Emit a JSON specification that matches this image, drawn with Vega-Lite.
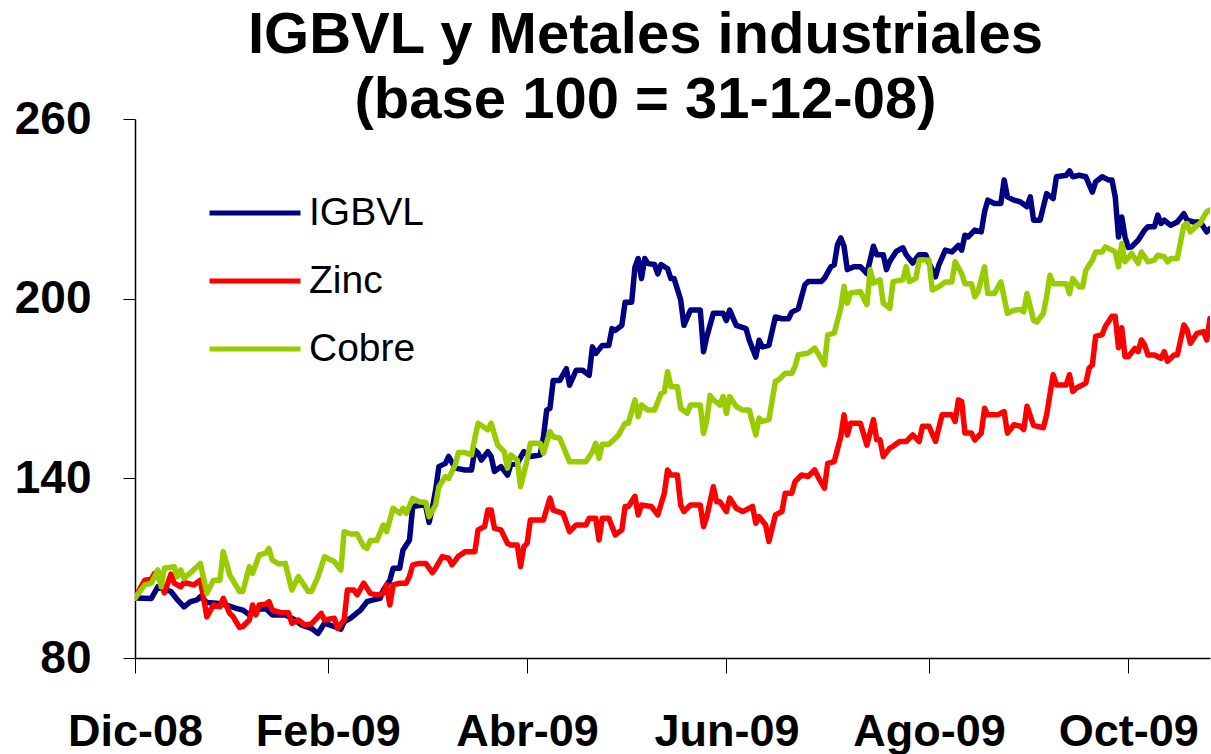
{
"$schema":"https://vega.github.io/schema/vega-lite/v6.json",
"width":1075,"height":539,
"autosize":{"type":"none"},
"padding":{"left":135,"top":119,"right":1,"bottom":96},
"background":"white",
"config":{"view":{"stroke":null},"font":"Liberation Sans"},
"title":{"text":["IGBVL y Metales industriales","(base 100 = 31-12-08)"],"font":"Liberation Sans","fontSize":58,"fontWeight":"bold","color":"black","anchor":"middle","frame":"group","dx":-27,"lineHeight":65,"baseline":"alphabetic","offset":-80},
"data":{"values":[
{"s":"IGBVL","d":"2008/12/31","v":100},{"s":"IGBVL","d":"2009/01/05","v":99.9},{"s":"IGBVL","d":"2009/01/07","v":103.8},{"s":"IGBVL","d":"2009/01/11","v":102.2},{"s":"IGBVL","d":"2009/01/13","v":99.4},{"s":"IGBVL","d":"2009/01/15","v":97.1},{"s":"IGBVL","d":"2009/01/17","v":98.8},{"s":"IGBVL","d":"2009/01/19","v":99.4},{"s":"IGBVL","d":"2009/01/20","v":100.5},{"s":"IGBVL","d":"2009/01/22","v":98.5},{"s":"IGBVL","d":"2009/01/25","v":98.3},{"s":"IGBVL","d":"2009/01/28","v":97.7},{"s":"IGBVL","d":"2009/01/31","v":96.6},{"s":"IGBVL","d":"2009/02/02","v":96},{"s":"IGBVL","d":"2009/02/04","v":94.4},{"s":"IGBVL","d":"2009/02/06","v":96},{"s":"IGBVL","d":"2009/02/09","v":96.6},{"s":"IGBVL","d":"2009/02/11","v":94.4},{"s":"IGBVL","d":"2009/02/15","v":94.4},{"s":"IGBVL","d":"2009/02/18","v":92.7},{"s":"IGBVL","d":"2009/02/20","v":91},{"s":"IGBVL","d":"2009/02/23","v":89.9},{"s":"IGBVL","d":"2009/02/25","v":88.2},{"s":"IGBVL","d":"2009/02/27","v":91.6},{"s":"IGBVL","d":"2009/03/02","v":90.5},{"s":"IGBVL","d":"2009/03/04","v":89.6},{"s":"IGBVL","d":"2009/03/05","v":92.1},{"s":"IGBVL","d":"2009/03/07","v":93.3},{"s":"IGBVL","d":"2009/03/10","v":96},{"s":"IGBVL","d":"2009/03/12","v":98.8},{"s":"IGBVL","d":"2009/03/14","v":99.4},{"s":"IGBVL","d":"2009/03/16","v":99.9},{"s":"IGBVL","d":"2009/03/17","v":102.7},{"s":"IGBVL","d":"2009/03/19","v":106},{"s":"IGBVL","d":"2009/03/20","v":110},{"s":"IGBVL","d":"2009/03/22","v":110},{"s":"IGBVL","d":"2009/03/23","v":116},{"s":"IGBVL","d":"2009/03/25","v":119.4},{"s":"IGBVL","d":"2009/03/26","v":130.6},{"s":"IGBVL","d":"2009/03/29","v":131.1},{"s":"IGBVL","d":"2009/03/30","v":130.6},{"s":"IGBVL","d":"2009/03/31","v":125.3},{"s":"IGBVL","d":"2009/04/01","v":130},{"s":"IGBVL","d":"2009/04/02","v":136.1},{"s":"IGBVL","d":"2009/04/03","v":143.9},{"s":"IGBVL","d":"2009/04/05","v":145},{"s":"IGBVL","d":"2009/04/06","v":147.3},{"s":"IGBVL","d":"2009/04/08","v":143.4},{"s":"IGBVL","d":"2009/04/11","v":142.8},{"s":"IGBVL","d":"2009/04/13","v":142.8},{"s":"IGBVL","d":"2009/04/14","v":149.5},{"s":"IGBVL","d":"2009/04/15","v":148.4},{"s":"IGBVL","d":"2009/04/16","v":146.1},{"s":"IGBVL","d":"2009/04/18","v":148.9},{"s":"IGBVL","d":"2009/04/19","v":147.3},{"s":"IGBVL","d":"2009/04/20","v":142.3},{"s":"IGBVL","d":"2009/04/22","v":143.9},{"s":"IGBVL","d":"2009/04/24","v":141.1},{"s":"IGBVL","d":"2009/04/25","v":144.5},{"s":"IGBVL","d":"2009/04/27","v":145},{"s":"IGBVL","d":"2009/04/29","v":148.9},{"s":"IGBVL","d":"2009/05/01","v":147.3},{"s":"IGBVL","d":"2009/05/04","v":147.8},{"s":"IGBVL","d":"2009/05/05","v":153.9},{"s":"IGBVL","d":"2009/05/06","v":162.8},{"s":"IGBVL","d":"2009/05/07","v":163.4},{"s":"IGBVL","d":"2009/05/08","v":172.7},{"s":"IGBVL","d":"2009/05/10","v":172.7},{"s":"IGBVL","d":"2009/05/12","v":176.6},{"s":"IGBVL","d":"2009/05/13","v":171.1},{"s":"IGBVL","d":"2009/05/15","v":176.1},{"s":"IGBVL","d":"2009/05/17","v":176.1},{"s":"IGBVL","d":"2009/05/19","v":174.4},{"s":"IGBVL","d":"2009/05/20","v":183.9},{"s":"IGBVL","d":"2009/05/21","v":181.7},{"s":"IGBVL","d":"2009/05/23","v":184.4},{"s":"IGBVL","d":"2009/05/25","v":184.4},{"s":"IGBVL","d":"2009/05/26","v":190},{"s":"IGBVL","d":"2009/05/27","v":189.4},{"s":"IGBVL","d":"2009/05/29","v":191.1},{"s":"IGBVL","d":"2009/05/30","v":198.8},{"s":"IGBVL","d":"2009/06/01","v":198.8},{"s":"IGBVL","d":"2009/06/02","v":210.5},{"s":"IGBVL","d":"2009/06/03","v":213.4},{"s":"IGBVL","d":"2009/06/04","v":206.7},{"s":"IGBVL","d":"2009/06/05","v":213.4},{"s":"IGBVL","d":"2009/06/06","v":211.7},{"s":"IGBVL","d":"2009/06/08","v":211.4},{"s":"IGBVL","d":"2009/06/09","v":208.3},{"s":"IGBVL","d":"2009/06/10","v":211.4},{"s":"IGBVL","d":"2009/06/12","v":210},{"s":"IGBVL","d":"2009/06/13","v":206.7},{"s":"IGBVL","d":"2009/06/14","v":206.7},{"s":"IGBVL","d":"2009/06/16","v":199.6},{"s":"IGBVL","d":"2009/06/17","v":191.1},{"s":"IGBVL","d":"2009/06/19","v":196.2},{"s":"IGBVL","d":"2009/06/22","v":196.2},{"s":"IGBVL","d":"2009/06/23","v":182.3},{"s":"IGBVL","d":"2009/06/24","v":187.3},{"s":"IGBVL","d":"2009/06/26","v":195.1},{"s":"IGBVL","d":"2009/06/29","v":195.1},{"s":"IGBVL","d":"2009/06/30","v":192.7},{"s":"IGBVL","d":"2009/07/01","v":196.2},{"s":"IGBVL","d":"2009/07/03","v":191.1},{"s":"IGBVL","d":"2009/07/06","v":190},{"s":"IGBVL","d":"2009/07/07","v":186.1},{"s":"IGBVL","d":"2009/07/09","v":180.5},{"s":"IGBVL","d":"2009/07/10","v":186.1},{"s":"IGBVL","d":"2009/07/11","v":183.9},{"s":"IGBVL","d":"2009/07/13","v":184.4},{"s":"IGBVL","d":"2009/07/15","v":193.9},{"s":"IGBVL","d":"2009/07/17","v":193.3},{"s":"IGBVL","d":"2009/07/19","v":193.3},{"s":"IGBVL","d":"2009/07/20","v":195.5},{"s":"IGBVL","d":"2009/07/22","v":196.6},{"s":"IGBVL","d":"2009/07/24","v":204.6},{"s":"IGBVL","d":"2009/07/25","v":205.7},{"s":"IGBVL","d":"2009/07/29","v":205.7},{"s":"IGBVL","d":"2009/07/30","v":206.8},{"s":"IGBVL","d":"2009/08/01","v":210.7},{"s":"IGBVL","d":"2009/08/02","v":211.3},{"s":"IGBVL","d":"2009/08/03","v":218},{"s":"IGBVL","d":"2009/08/04","v":220.3},{"s":"IGBVL","d":"2009/08/05","v":217.5},{"s":"IGBVL","d":"2009/08/06","v":209.7},{"s":"IGBVL","d":"2009/08/08","v":210.7},{"s":"IGBVL","d":"2009/08/10","v":210.7},{"s":"IGBVL","d":"2009/08/12","v":208.4},{"s":"IGBVL","d":"2009/08/14","v":217.5},{"s":"IGBVL","d":"2009/08/15","v":214.7},{"s":"IGBVL","d":"2009/08/17","v":214.7},{"s":"IGBVL","d":"2009/08/18","v":209.7},{"s":"IGBVL","d":"2009/08/19","v":212.5},{"s":"IGBVL","d":"2009/08/21","v":215.8},{"s":"IGBVL","d":"2009/08/23","v":217},{"s":"IGBVL","d":"2009/08/24","v":214.7},{"s":"IGBVL","d":"2009/08/26","v":211.9},{"s":"IGBVL","d":"2009/08/28","v":214.7},{"s":"IGBVL","d":"2009/08/30","v":214.7},{"s":"IGBVL","d":"2009/08/31","v":211.9},{"s":"IGBVL","d":"2009/09/02","v":207.3},{"s":"IGBVL","d":"2009/09/03","v":211.2},{"s":"IGBVL","d":"2009/09/05","v":216.2},{"s":"IGBVL","d":"2009/09/07","v":215.6},{"s":"IGBVL","d":"2009/09/09","v":217.8},{"s":"IGBVL","d":"2009/09/10","v":216.2},{"s":"IGBVL","d":"2009/09/11","v":221.2},{"s":"IGBVL","d":"2009/09/12","v":220.6},{"s":"IGBVL","d":"2009/09/14","v":222.9},{"s":"IGBVL","d":"2009/09/16","v":222.3},{"s":"IGBVL","d":"2009/09/17","v":229},{"s":"IGBVL","d":"2009/09/18","v":232.9},{"s":"IGBVL","d":"2009/09/20","v":231.8},{"s":"IGBVL","d":"2009/09/22","v":231.8},{"s":"IGBVL","d":"2009/09/23","v":239.6},{"s":"IGBVL","d":"2009/09/24","v":234},{"s":"IGBVL","d":"2009/09/26","v":232.9},{"s":"IGBVL","d":"2009/09/28","v":232.3},{"s":"IGBVL","d":"2009/09/30","v":230.7},{"s":"IGBVL","d":"2009/10/01","v":234},{"s":"IGBVL","d":"2009/10/02","v":226.2},{"s":"IGBVL","d":"2009/10/04","v":226.2},{"s":"IGBVL","d":"2009/10/06","v":235.1},{"s":"IGBVL","d":"2009/10/08","v":233.4},{"s":"IGBVL","d":"2009/10/09","v":240.7},{"s":"IGBVL","d":"2009/10/12","v":241.2},{"s":"IGBVL","d":"2009/10/13","v":242.7},{"s":"IGBVL","d":"2009/10/14","v":240.7},{"s":"IGBVL","d":"2009/10/16","v":241.2},{"s":"IGBVL","d":"2009/10/18","v":240.7},{"s":"IGBVL","d":"2009/10/20","v":235.6},{"s":"IGBVL","d":"2009/10/21","v":239},{"s":"IGBVL","d":"2009/10/23","v":240.7},{"s":"IGBVL","d":"2009/10/25","v":239.6},{"s":"IGBVL","d":"2009/10/26","v":239.6},{"s":"IGBVL","d":"2009/10/27","v":234},{"s":"IGBVL","d":"2009/10/28","v":220.6},{"s":"IGBVL","d":"2009/10/29","v":227.3},{"s":"IGBVL","d":"2009/10/30","v":220.6},{"s":"IGBVL","d":"2009/10/31","v":217.1},{"s":"IGBVL","d":"2009/11/01","v":217.3},{"s":"IGBVL","d":"2009/11/03","v":219.5},{"s":"IGBVL","d":"2009/11/05","v":222.9},{"s":"IGBVL","d":"2009/11/06","v":224},{"s":"IGBVL","d":"2009/11/08","v":224},{"s":"IGBVL","d":"2009/11/09","v":227.9},{"s":"IGBVL","d":"2009/11/10","v":225.1},{"s":"IGBVL","d":"2009/11/11","v":226.2},{"s":"IGBVL","d":"2009/11/13","v":224.5},{"s":"IGBVL","d":"2009/11/15","v":225.6},{"s":"IGBVL","d":"2009/11/17","v":228.4},{"s":"IGBVL","d":"2009/11/18","v":226.2},{"s":"IGBVL","d":"2009/11/20","v":225.6},{"s":"IGBVL","d":"2009/11/22","v":225.6},{"s":"IGBVL","d":"2009/11/24","v":222.3},{"s":"IGBVL","d":"2009/11/25","v":223.4},
{"s":"Zinc","d":"2008/12/31","v":100},{"s":"Zinc","d":"2009/01/03","v":106},{"s":"Zinc","d":"2009/01/05","v":106.3},{"s":"Zinc","d":"2009/01/06","v":108.3},{"s":"Zinc","d":"2009/01/07","v":107.7},{"s":"Zinc","d":"2009/01/09","v":101.8},{"s":"Zinc","d":"2009/01/11","v":108},{"s":"Zinc","d":"2009/01/12","v":105},{"s":"Zinc","d":"2009/01/14","v":103.8},{"s":"Zinc","d":"2009/01/15","v":105.2},{"s":"Zinc","d":"2009/01/18","v":104.4},{"s":"Zinc","d":"2009/01/20","v":106},{"s":"Zinc","d":"2009/01/22","v":93.8},{"s":"Zinc","d":"2009/01/24","v":97.7},{"s":"Zinc","d":"2009/01/26","v":97.1},{"s":"Zinc","d":"2009/01/27","v":99.9},{"s":"Zinc","d":"2009/01/29","v":94.9},{"s":"Zinc","d":"2009/01/30","v":93.8},{"s":"Zinc","d":"2009/02/01","v":90.2},{"s":"Zinc","d":"2009/02/02","v":90.5},{"s":"Zinc","d":"2009/02/04","v":92.7},{"s":"Zinc","d":"2009/02/05","v":97.7},{"s":"Zinc","d":"2009/02/06","v":94.4},{"s":"Zinc","d":"2009/02/07","v":97.7},{"s":"Zinc","d":"2009/02/09","v":98},{"s":"Zinc","d":"2009/02/10","v":98.8},{"s":"Zinc","d":"2009/02/11","v":96},{"s":"Zinc","d":"2009/02/14","v":95.1},{"s":"Zinc","d":"2009/02/16","v":95.1},{"s":"Zinc","d":"2009/02/17","v":91.6},{"s":"Zinc","d":"2009/02/19","v":92.7},{"s":"Zinc","d":"2009/02/21","v":91},{"s":"Zinc","d":"2009/02/23","v":91.4},{"s":"Zinc","d":"2009/02/26","v":94.9},{"s":"Zinc","d":"2009/02/27","v":92.7},{"s":"Zinc","d":"2009/03/02","v":93.3},{"s":"Zinc","d":"2009/03/03","v":89.9},{"s":"Zinc","d":"2009/03/05","v":92.7},{"s":"Zinc","d":"2009/03/06","v":102.7},{"s":"Zinc","d":"2009/03/08","v":102.7},{"s":"Zinc","d":"2009/03/09","v":101.1},{"s":"Zinc","d":"2009/03/11","v":105},{"s":"Zinc","d":"2009/03/13","v":101.6},{"s":"Zinc","d":"2009/03/15","v":101.1},{"s":"Zinc","d":"2009/03/17","v":101.6},{"s":"Zinc","d":"2009/03/18","v":104.4},{"s":"Zinc","d":"2009/03/19","v":97.7},{"s":"Zinc","d":"2009/03/20","v":104.4},{"s":"Zinc","d":"2009/03/22","v":105},{"s":"Zinc","d":"2009/03/24","v":105},{"s":"Zinc","d":"2009/03/25","v":107.2},{"s":"Zinc","d":"2009/03/26","v":111.1},{"s":"Zinc","d":"2009/03/28","v":111.6},{"s":"Zinc","d":"2009/03/30","v":111.6},{"s":"Zinc","d":"2009/04/01","v":108.5},{"s":"Zinc","d":"2009/04/02","v":110},{"s":"Zinc","d":"2009/04/04","v":113.8},{"s":"Zinc","d":"2009/04/06","v":113.3},{"s":"Zinc","d":"2009/04/07","v":111.1},{"s":"Zinc","d":"2009/04/09","v":114},{"s":"Zinc","d":"2009/04/11","v":115.5},{"s":"Zinc","d":"2009/04/14","v":115.5},{"s":"Zinc","d":"2009/04/15","v":122.8},{"s":"Zinc","d":"2009/04/17","v":123.9},{"s":"Zinc","d":"2009/04/18","v":129.4},{"s":"Zinc","d":"2009/04/19","v":129.4},{"s":"Zinc","d":"2009/04/20","v":123.3},{"s":"Zinc","d":"2009/04/22","v":122.8},{"s":"Zinc","d":"2009/04/24","v":118.3},{"s":"Zinc","d":"2009/04/25","v":117.7},{"s":"Zinc","d":"2009/04/27","v":117.7},{"s":"Zinc","d":"2009/04/28","v":110.5},{"s":"Zinc","d":"2009/04/29","v":117.2},{"s":"Zinc","d":"2009/04/30","v":118.3},{"s":"Zinc","d":"2009/05/01","v":126.1},{"s":"Zinc","d":"2009/05/05","v":126.1},{"s":"Zinc","d":"2009/05/07","v":133.4},{"s":"Zinc","d":"2009/05/08","v":129.4},{"s":"Zinc","d":"2009/05/11","v":128.3},{"s":"Zinc","d":"2009/05/13","v":122.2},{"s":"Zinc","d":"2009/05/15","v":124.4},{"s":"Zinc","d":"2009/05/18","v":124.4},{"s":"Zinc","d":"2009/05/19","v":126.7},{"s":"Zinc","d":"2009/05/21","v":126.7},{"s":"Zinc","d":"2009/05/22","v":119.4},{"s":"Zinc","d":"2009/05/23","v":126.7},{"s":"Zinc","d":"2009/05/25","v":126.7},{"s":"Zinc","d":"2009/05/27","v":121.1},{"s":"Zinc","d":"2009/05/29","v":122.8},{"s":"Zinc","d":"2009/05/30","v":130.6},{"s":"Zinc","d":"2009/05/31","v":130.6},{"s":"Zinc","d":"2009/06/02","v":134},{"s":"Zinc","d":"2009/06/03","v":127.8},{"s":"Zinc","d":"2009/06/04","v":131.1},{"s":"Zinc","d":"2009/06/07","v":130.6},{"s":"Zinc","d":"2009/06/09","v":127.8},{"s":"Zinc","d":"2009/06/11","v":135},{"s":"Zinc","d":"2009/06/12","v":142.8},{"s":"Zinc","d":"2009/06/13","v":141.1},{"s":"Zinc","d":"2009/06/15","v":141.1},{"s":"Zinc","d":"2009/06/16","v":131.1},{"s":"Zinc","d":"2009/06/17","v":128.9},{"s":"Zinc","d":"2009/06/19","v":131.1},{"s":"Zinc","d":"2009/06/22","v":131.1},{"s":"Zinc","d":"2009/06/23","v":123.9},{"s":"Zinc","d":"2009/06/24","v":127.2},{"s":"Zinc","d":"2009/06/26","v":137.2},{"s":"Zinc","d":"2009/06/27","v":132.2},{"s":"Zinc","d":"2009/06/28","v":132.2},{"s":"Zinc","d":"2009/06/30","v":128.9},{"s":"Zinc","d":"2009/07/01","v":133.4},{"s":"Zinc","d":"2009/07/03","v":130},{"s":"Zinc","d":"2009/07/05","v":128.9},{"s":"Zinc","d":"2009/07/08","v":130.6},{"s":"Zinc","d":"2009/07/09","v":125},{"s":"Zinc","d":"2009/07/10","v":127.2},{"s":"Zinc","d":"2009/07/12","v":124.4},{"s":"Zinc","d":"2009/07/13","v":118.9},{"s":"Zinc","d":"2009/07/15","v":127.8},{"s":"Zinc","d":"2009/07/17","v":128.9},{"s":"Zinc","d":"2009/07/18","v":135},{"s":"Zinc","d":"2009/07/20","v":135},{"s":"Zinc","d":"2009/07/21","v":138.9},{"s":"Zinc","d":"2009/07/23","v":141.1},{"s":"Zinc","d":"2009/07/25","v":140.6},{"s":"Zinc","d":"2009/07/27","v":142.8},{"s":"Zinc","d":"2009/07/28","v":140.6},{"s":"Zinc","d":"2009/07/30","v":136.7},{"s":"Zinc","d":"2009/07/31","v":145},{"s":"Zinc","d":"2009/08/02","v":145.6},{"s":"Zinc","d":"2009/08/04","v":153.9},{"s":"Zinc","d":"2009/08/05","v":161.2},{"s":"Zinc","d":"2009/08/06","v":154.5},{"s":"Zinc","d":"2009/08/07","v":158.4},{"s":"Zinc","d":"2009/08/10","v":158.4},{"s":"Zinc","d":"2009/08/12","v":151.1},{"s":"Zinc","d":"2009/08/14","v":159.6},{"s":"Zinc","d":"2009/08/15","v":152.9},{"s":"Zinc","d":"2009/08/16","v":152.9},{"s":"Zinc","d":"2009/08/17","v":147.3},{"s":"Zinc","d":"2009/08/19","v":150.1},{"s":"Zinc","d":"2009/08/20","v":150.7},{"s":"Zinc","d":"2009/08/22","v":152.3},{"s":"Zinc","d":"2009/08/24","v":152.3},{"s":"Zinc","d":"2009/08/26","v":154.5},{"s":"Zinc","d":"2009/08/28","v":152.3},{"s":"Zinc","d":"2009/08/29","v":157.4},{"s":"Zinc","d":"2009/08/31","v":157.4},{"s":"Zinc","d":"2009/09/02","v":152.3},{"s":"Zinc","d":"2009/09/04","v":161.2},{"s":"Zinc","d":"2009/09/07","v":161.2},{"s":"Zinc","d":"2009/09/08","v":159},{"s":"Zinc","d":"2009/09/09","v":166.2},{"s":"Zinc","d":"2009/09/10","v":165.7},{"s":"Zinc","d":"2009/09/11","v":155.1},{"s":"Zinc","d":"2009/09/13","v":155.1},{"s":"Zinc","d":"2009/09/14","v":152.8},{"s":"Zinc","d":"2009/09/16","v":155.1},{"s":"Zinc","d":"2009/09/17","v":163.4},{"s":"Zinc","d":"2009/09/18","v":161.2},{"s":"Zinc","d":"2009/09/21","v":161.2},{"s":"Zinc","d":"2009/09/23","v":162.3},{"s":"Zinc","d":"2009/09/24","v":155.1},{"s":"Zinc","d":"2009/09/26","v":157.9},{"s":"Zinc","d":"2009/09/28","v":157.4},{"s":"Zinc","d":"2009/09/29","v":156.3},{"s":"Zinc","d":"2009/09/30","v":164.1},{"s":"Zinc","d":"2009/10/02","v":157.7},{"s":"Zinc","d":"2009/10/05","v":156.9},{"s":"Zinc","d":"2009/10/06","v":161.2},{"s":"Zinc","d":"2009/10/08","v":174.6},{"s":"Zinc","d":"2009/10/09","v":171.2},{"s":"Zinc","d":"2009/10/12","v":171.2},{"s":"Zinc","d":"2009/10/13","v":174.6},{"s":"Zinc","d":"2009/10/14","v":169},{"s":"Zinc","d":"2009/10/15","v":170.1},{"s":"Zinc","d":"2009/10/18","v":171.8},{"s":"Zinc","d":"2009/10/19","v":176.8},{"s":"Zinc","d":"2009/10/20","v":177.9},{"s":"Zinc","d":"2009/10/21","v":187.4},{"s":"Zinc","d":"2009/10/23","v":188},{"s":"Zinc","d":"2009/10/24","v":190.8},{"s":"Zinc","d":"2009/10/26","v":194.1},{"s":"Zinc","d":"2009/10/27","v":194.1},{"s":"Zinc","d":"2009/10/28","v":183.6},{"s":"Zinc","d":"2009/10/29","v":190.3},{"s":"Zinc","d":"2009/10/30","v":180.6},{"s":"Zinc","d":"2009/10/31","v":180.6},{"s":"Zinc","d":"2009/11/02","v":183.4},{"s":"Zinc","d":"2009/11/03","v":182.3},{"s":"Zinc","d":"2009/11/04","v":186.2},{"s":"Zinc","d":"2009/11/05","v":184.5},{"s":"Zinc","d":"2009/11/06","v":181.2},{"s":"Zinc","d":"2009/11/08","v":181.2},{"s":"Zinc","d":"2009/11/10","v":180.1},{"s":"Zinc","d":"2009/11/11","v":182.3},{"s":"Zinc","d":"2009/11/12","v":179.1},{"s":"Zinc","d":"2009/11/14","v":181.2},{"s":"Zinc","d":"2009/11/15","v":181.2},{"s":"Zinc","d":"2009/11/17","v":191.2},{"s":"Zinc","d":"2009/11/18","v":189.5},{"s":"Zinc","d":"2009/11/19","v":185.1},{"s":"Zinc","d":"2009/11/21","v":188.4},{"s":"Zinc","d":"2009/11/23","v":189},{"s":"Zinc","d":"2009/11/24","v":186.2},{"s":"Zinc","d":"2009/11/25","v":193.4},
{"s":"Cobre","d":"2008/12/31","v":100},{"s":"Cobre","d":"2009/01/03","v":104.4},{"s":"Cobre","d":"2009/01/05","v":105},{"s":"Cobre","d":"2009/01/07","v":109.4},{"s":"Cobre","d":"2009/01/08","v":103.8},{"s":"Cobre","d":"2009/01/09","v":110},{"s":"Cobre","d":"2009/01/12","v":110.5},{"s":"Cobre","d":"2009/01/13","v":107.2},{"s":"Cobre","d":"2009/01/14","v":109.4},{"s":"Cobre","d":"2009/01/15","v":106.6},{"s":"Cobre","d":"2009/01/17","v":108.5},{"s":"Cobre","d":"2009/01/20","v":111.6},{"s":"Cobre","d":"2009/01/22","v":101.6},{"s":"Cobre","d":"2009/01/24","v":106},{"s":"Cobre","d":"2009/01/26","v":106},{"s":"Cobre","d":"2009/01/27","v":115.5},{"s":"Cobre","d":"2009/01/29","v":107.7},{"s":"Cobre","d":"2009/02/01","v":102.2},{"s":"Cobre","d":"2009/02/02","v":102.2},{"s":"Cobre","d":"2009/02/04","v":110.5},{"s":"Cobre","d":"2009/02/05","v":108.3},{"s":"Cobre","d":"2009/02/07","v":114.4},{"s":"Cobre","d":"2009/02/09","v":115},{"s":"Cobre","d":"2009/02/10","v":116.6},{"s":"Cobre","d":"2009/02/11","v":112.7},{"s":"Cobre","d":"2009/02/13","v":111.4},{"s":"Cobre","d":"2009/02/15","v":111.6},{"s":"Cobre","d":"2009/02/17","v":102.7},{"s":"Cobre","d":"2009/02/19","v":107.2},{"s":"Cobre","d":"2009/02/22","v":102.2},{"s":"Cobre","d":"2009/02/23","v":102.2},{"s":"Cobre","d":"2009/02/25","v":107.2},{"s":"Cobre","d":"2009/02/27","v":113.8},{"s":"Cobre","d":"2009/03/01","v":112.7},{"s":"Cobre","d":"2009/03/02","v":112.2},{"s":"Cobre","d":"2009/03/04","v":109.4},{"s":"Cobre","d":"2009/03/05","v":122.2},{"s":"Cobre","d":"2009/03/07","v":121.4},{"s":"Cobre","d":"2009/03/09","v":121.4},{"s":"Cobre","d":"2009/03/11","v":117.2},{"s":"Cobre","d":"2009/03/12","v":116.6},{"s":"Cobre","d":"2009/03/13","v":119.2},{"s":"Cobre","d":"2009/03/15","v":119.2},{"s":"Cobre","d":"2009/03/17","v":124.4},{"s":"Cobre","d":"2009/03/18","v":122.2},{"s":"Cobre","d":"2009/03/20","v":130},{"s":"Cobre","d":"2009/03/22","v":128.3},{"s":"Cobre","d":"2009/03/23","v":130},{"s":"Cobre","d":"2009/03/24","v":128.3},{"s":"Cobre","d":"2009/03/26","v":133.3},{"s":"Cobre","d":"2009/03/28","v":132.2},{"s":"Cobre","d":"2009/03/30","v":131.9},{"s":"Cobre","d":"2009/03/31","v":127.2},{"s":"Cobre","d":"2009/04/02","v":131.1},{"s":"Cobre","d":"2009/04/03","v":137.2},{"s":"Cobre","d":"2009/04/05","v":140.6},{"s":"Cobre","d":"2009/04/06","v":140},{"s":"Cobre","d":"2009/04/08","v":144.5},{"s":"Cobre","d":"2009/04/09","v":148.6},{"s":"Cobre","d":"2009/04/11","v":148.6},{"s":"Cobre","d":"2009/04/13","v":147.8},{"s":"Cobre","d":"2009/04/14","v":153.4},{"s":"Cobre","d":"2009/04/15","v":158.4},{"s":"Cobre","d":"2009/04/18","v":156.2},{"s":"Cobre","d":"2009/04/19","v":158.4},{"s":"Cobre","d":"2009/04/21","v":151.1},{"s":"Cobre","d":"2009/04/23","v":148.9},{"s":"Cobre","d":"2009/04/24","v":143.4},{"s":"Cobre","d":"2009/04/25","v":147.8},{"s":"Cobre","d":"2009/04/27","v":146.1},{"s":"Cobre","d":"2009/04/28","v":137.2},{"s":"Cobre","d":"2009/04/30","v":146.1},{"s":"Cobre","d":"2009/05/01","v":151.7},{"s":"Cobre","d":"2009/05/04","v":151.7},{"s":"Cobre","d":"2009/05/05","v":148.4},{"s":"Cobre","d":"2009/05/07","v":155.6},{"s":"Cobre","d":"2009/05/08","v":153.9},{"s":"Cobre","d":"2009/05/10","v":153.4},{"s":"Cobre","d":"2009/05/13","v":145.5},{"s":"Cobre","d":"2009/05/18","v":145.5},{"s":"Cobre","d":"2009/05/20","v":148.9},{"s":"Cobre","d":"2009/05/21","v":151.7},{"s":"Cobre","d":"2009/05/22","v":146.7},{"s":"Cobre","d":"2009/05/23","v":151.4},{"s":"Cobre","d":"2009/05/25","v":151.4},{"s":"Cobre","d":"2009/05/27","v":153.4},{"s":"Cobre","d":"2009/05/28","v":154.5},{"s":"Cobre","d":"2009/05/30","v":158.4},{"s":"Cobre","d":"2009/05/31","v":158.4},{"s":"Cobre","d":"2009/06/02","v":166.2},{"s":"Cobre","d":"2009/06/03","v":160.6},{"s":"Cobre","d":"2009/06/04","v":164.5},{"s":"Cobre","d":"2009/06/06","v":162.8},{"s":"Cobre","d":"2009/06/08","v":162.8},{"s":"Cobre","d":"2009/06/10","v":168.3},{"s":"Cobre","d":"2009/06/11","v":168.9},{"s":"Cobre","d":"2009/06/12","v":175.6},{"s":"Cobre","d":"2009/06/13","v":170.6},{"s":"Cobre","d":"2009/06/15","v":170.6},{"s":"Cobre","d":"2009/06/16","v":163.4},{"s":"Cobre","d":"2009/06/18","v":161.7},{"s":"Cobre","d":"2009/06/19","v":164.5},{"s":"Cobre","d":"2009/06/22","v":164.5},{"s":"Cobre","d":"2009/06/23","v":155},{"s":"Cobre","d":"2009/06/24","v":159.4},{"s":"Cobre","d":"2009/06/25","v":167.7},{"s":"Cobre","d":"2009/06/26","v":166.2},{"s":"Cobre","d":"2009/06/28","v":164.5},{"s":"Cobre","d":"2009/06/29","v":167.3},{"s":"Cobre","d":"2009/06/30","v":161.7},{"s":"Cobre","d":"2009/07/01","v":167.3},{"s":"Cobre","d":"2009/07/03","v":164},{"s":"Cobre","d":"2009/07/05","v":162.8},{"s":"Cobre","d":"2009/07/07","v":162.8},{"s":"Cobre","d":"2009/07/09","v":154.5},{"s":"Cobre","d":"2009/07/10","v":160.1},{"s":"Cobre","d":"2009/07/11","v":159},{"s":"Cobre","d":"2009/07/13","v":159.6},{"s":"Cobre","d":"2009/07/15","v":172.4},{"s":"Cobre","d":"2009/07/16","v":172.9},{"s":"Cobre","d":"2009/07/18","v":175.1},{"s":"Cobre","d":"2009/07/20","v":175.1},{"s":"Cobre","d":"2009/07/21","v":177.4},{"s":"Cobre","d":"2009/07/22","v":181.3},{"s":"Cobre","d":"2009/07/25","v":181.8},{"s":"Cobre","d":"2009/07/27","v":183.5},{"s":"Cobre","d":"2009/07/28","v":181.8},{"s":"Cobre","d":"2009/07/30","v":177.9},{"s":"Cobre","d":"2009/07/31","v":187.9},{"s":"Cobre","d":"2009/08/02","v":188.5},{"s":"Cobre","d":"2009/08/04","v":196.8},{"s":"Cobre","d":"2009/08/05","v":204.1},{"s":"Cobre","d":"2009/08/06","v":198.5},{"s":"Cobre","d":"2009/08/07","v":201.9},{"s":"Cobre","d":"2009/08/10","v":202.4},{"s":"Cobre","d":"2009/08/12","v":198},{"s":"Cobre","d":"2009/08/13","v":209.7},{"s":"Cobre","d":"2009/08/14","v":205.2},{"s":"Cobre","d":"2009/08/16","v":206.3},{"s":"Cobre","d":"2009/08/17","v":198.5},{"s":"Cobre","d":"2009/08/19","v":196.8},{"s":"Cobre","d":"2009/08/20","v":205.7},{"s":"Cobre","d":"2009/08/23","v":206.3},{"s":"Cobre","d":"2009/08/24","v":210.7},{"s":"Cobre","d":"2009/08/25","v":205.7},{"s":"Cobre","d":"2009/08/27","v":206.8},{"s":"Cobre","d":"2009/08/28","v":212.9},{"s":"Cobre","d":"2009/08/31","v":212.9},{"s":"Cobre","d":"2009/09/01","v":202.9},{"s":"Cobre","d":"2009/09/03","v":204},{"s":"Cobre","d":"2009/09/05","v":205.6},{"s":"Cobre","d":"2009/09/07","v":205.6},{"s":"Cobre","d":"2009/09/08","v":212.3},{"s":"Cobre","d":"2009/09/10","v":208.4},{"s":"Cobre","d":"2009/09/11","v":205},{"s":"Cobre","d":"2009/09/13","v":205},{"s":"Cobre","d":"2009/09/14","v":200.6},{"s":"Cobre","d":"2009/09/15","v":202.3},{"s":"Cobre","d":"2009/09/17","v":210.6},{"s":"Cobre","d":"2009/09/18","v":201.7},{"s":"Cobre","d":"2009/09/20","v":201.7},{"s":"Cobre","d":"2009/09/22","v":205.6},{"s":"Cobre","d":"2009/09/24","v":195.1},{"s":"Cobre","d":"2009/09/26","v":196.1},{"s":"Cobre","d":"2009/09/28","v":196.4},{"s":"Cobre","d":"2009/09/29","v":195.6},{"s":"Cobre","d":"2009/09/30","v":201.7},{"s":"Cobre","d":"2009/10/02","v":192.8},{"s":"Cobre","d":"2009/10/03","v":192.2},{"s":"Cobre","d":"2009/10/05","v":195.1},{"s":"Cobre","d":"2009/10/06","v":200.6},{"s":"Cobre","d":"2009/10/07","v":207.8},{"s":"Cobre","d":"2009/10/08","v":205},{"s":"Cobre","d":"2009/10/12","v":205},{"s":"Cobre","d":"2009/10/13","v":201.7},{"s":"Cobre","d":"2009/10/14","v":206.7},{"s":"Cobre","d":"2009/10/16","v":203.9},{"s":"Cobre","d":"2009/10/17","v":203.9},{"s":"Cobre","d":"2009/10/18","v":209.5},{"s":"Cobre","d":"2009/10/20","v":212.8},{"s":"Cobre","d":"2009/10/21","v":215.6},{"s":"Cobre","d":"2009/10/23","v":215.6},{"s":"Cobre","d":"2009/10/24","v":217.3},{"s":"Cobre","d":"2009/10/26","v":216.2},{"s":"Cobre","d":"2009/10/27","v":215.6},{"s":"Cobre","d":"2009/10/28","v":210.6},{"s":"Cobre","d":"2009/10/29","v":218.4},{"s":"Cobre","d":"2009/10/30","v":212.3},{"s":"Cobre","d":"2009/11/01","v":215.1},{"s":"Cobre","d":"2009/11/03","v":211.8},{"s":"Cobre","d":"2009/11/04","v":215.6},{"s":"Cobre","d":"2009/11/06","v":212.3},{"s":"Cobre","d":"2009/11/08","v":212.9},{"s":"Cobre","d":"2009/11/09","v":214.5},{"s":"Cobre","d":"2009/11/11","v":214},{"s":"Cobre","d":"2009/11/12","v":212.3},{"s":"Cobre","d":"2009/11/13","v":213.4},{"s":"Cobre","d":"2009/11/15","v":213.4},{"s":"Cobre","d":"2009/11/17","v":224.5},{"s":"Cobre","d":"2009/11/18","v":225.1},{"s":"Cobre","d":"2009/11/19","v":222.3},{"s":"Cobre","d":"2009/11/21","v":224.5},{"s":"Cobre","d":"2009/11/22","v":225.1},{"s":"Cobre","d":"2009/11/23","v":227.3},{"s":"Cobre","d":"2009/11/24","v":229},{"s":"Cobre","d":"2009/11/25","v":229.6}
]},
"mark":{"type":"line","strokeWidth":5.5,"strokeJoin":"round","strokeCap":"round","clip":true},
"encoding":{
"x":{"field":"d","type":"temporal","scale":{"domain":[{"year":2008,"month":"dec","date":31},{"year":2009,"month":"nov","date":25}]},
"axis":{"title":null,"grid":false,"values":[{"year":2008,"month":"dec","date":31},{"year":2009,"month":"feb","date":28},{"year":2009,"month":"apr","date":30},{"year":2009,"month":"jun","date":30},{"year":2009,"month":"aug","date":31},{"year":2009,"month":"oct","date":31}],
"labelExpr":"['Ene','Feb','Mar','Abr','May','Jun','Jul','Ago','Set','Oct','Nov','Dic'][month(datum.value)] + '-' + timeFormat(datum.value, '%y')",
"labelFont":"Liberation Sans","labelFontSize":45,"labelFontWeight":"bold","labelColor":"black","labelPadding":36,"labelFlush":false,"labelOverlap":false,"tickSize":15,"tickColor":"black","tickWidth":1,"domainColor":"black","domainWidth":1.5}},
"y":{"field":"v","type":"quantitative","scale":{"domain":[80,260],"nice":false,"zero":false},
"axis":{"title":null,"grid":false,"values":[80,140,200,260],"labelFont":"Liberation Sans","labelFontSize":46,"labelFontWeight":"bold","labelColor":"black","labelPadding":32,"tickSize":12,"tickColor":"black","tickWidth":1,"domainColor":"black","domainWidth":1.5,"labelFlush":false,"labelOverlap":false}},
"color":{"field":"s","type":"nominal","sort":["IGBVL","Zinc","Cobre"],"scale":{"domain":["IGBVL","Zinc","Cobre"],"range":["#000080","#FF0000","#99CC00"]},
"legend":{"title":null,"orient":"none","legendX":72,"legendY":46,"symbolType":"stroke","symbolSize":8281,"symbolStrokeWidth":5,"labelFont":"Liberation Sans","labelFontSize":39,"labelColor":"black","labelOffset":6,"rowPadding":-30,"padding":0}}
}
}
